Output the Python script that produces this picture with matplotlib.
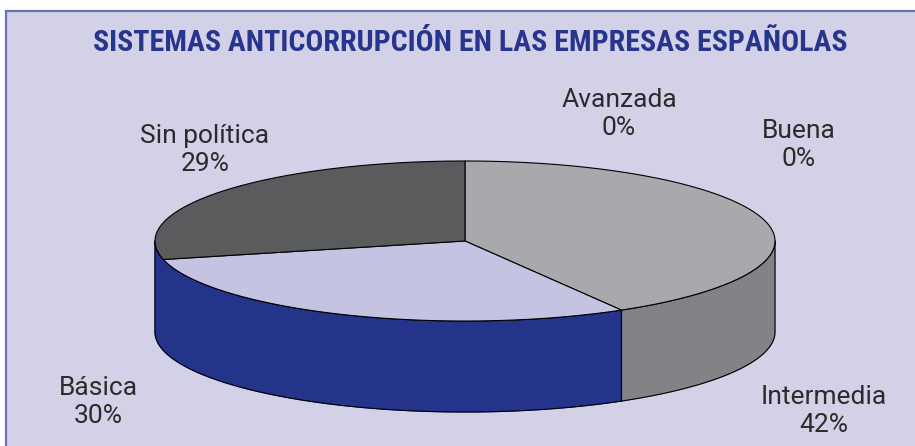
import numpy as np
import matplotlib
matplotlib.use("Agg")
import matplotlib.pyplot as plt
from matplotlib import font_manager
from matplotlib.patches import Rectangle, Polygon

# datos del grafico
titulo = "SISTEMAS ANTICORRUPCIÓN EN LAS EMPRESAS ESPAÑOLAS"
categorias = ["Intermedia", "Básica", "Sin política", "Avanzada", "Buena"]
porcentajes = [42, 30, 29, 0, 0]

# estilos (colores de tapa y de lateral por porcion)
color_tapa = ["#a8a9ac", "#c4c4e2", "#5a5b5d", "#a8a9ac", "#a8a9ac"]
color_lado = ["#828386", "#25348b", "#25348b", "#828386", "#828386"]
pos_etiquetas = [(824, 411), (98, 402), (205, 150), (619, 114), (799, 145)]

FONDO = "#d3d1e8"
BORDE = "#6a70b6"
AZUL_TITULO = "#27358c"
GRIS_TEXTO = "#2b2b2b"

# geometria del pastel 3D (en pixeles)
cx, cy = 465, 241
rx, ry = 310, 80
prof = 91

disponibles = {f.name for f in font_manager.fontManager.ttflist}


def elegir(cands):
    for c in cands:
        if c in disponibles:
            return c
    return "DejaVu Sans"


fuente_titulo = elegir(["Roboto Condensed", "Liberation Sans Narrow", "DejaVu Sans Condensed", "Roboto"])
fuente_texto = elegir(["Roboto", "Lato", "Open Sans", "DejaVu Sans"])


def punto(theta, dy=0.0):
    t = np.radians(theta)
    return cx + rx * np.cos(t), cy - ry * np.sin(t) + dy


def arco(t1, t2, dy=0.0, n=120):
    ts = np.linspace(t1, t2, n)
    return [punto(t, dy) for t in ts]


fig = plt.figure(figsize=(9.15, 4.46), dpi=100, facecolor="white")
ax = fig.add_axes([0, 0, 1, 1])
ax.set_xlim(0, 915)
ax.set_ylim(446, 0)
ax.axis("off")

ax.add_patch(Rectangle((6, 11), 930, 460, facecolor=FONDO, edgecolor=BORDE, lw=1.6, zorder=0))

# angulos de las porciones: empiezan arriba y giran en sentido horario
total = float(sum(porcentajes))
frac = np.array(porcentajes) / total
fin = np.cumsum(frac)
ini = fin - frac
t_alto = 90 - ini * 360
t_bajo = 90 - fin * 360

# laterales visibles (mitad frontal, 180..360 grados)
for i in range(len(categorias)):
    if porcentajes[i] == 0:
        continue
    a, b = t_bajo[i], t_alto[i]
    for k in (-1, 0, 1):
        lo = max(a, 180 + 360 * k)
        hi = min(b, 360 + 360 * k)
        if hi - lo <= 0:
            continue
        pts = arco(lo, hi) + arco(hi, lo, dy=prof)
        ax.add_patch(Polygon(pts, closed=True, facecolor=color_lado[i], edgecolor=color_lado[i],
                             lw=0.8, joinstyle="round", zorder=2))

# contorno del lateral frontal
contorno = arco(180, 360) + arco(360, 180, dy=prof)
ax.add_patch(Polygon(contorno, closed=True, fill=False, edgecolor="black", lw=0.8,
                     joinstyle="round", zorder=2.5))
# division lateral entre porciones que se ven de frente
for i in range(len(categorias)):
    if porcentajes[i] == 0:
        continue
    th = t_bajo[i] % 360
    if 180 < th < 360 and color_lado[i] != color_lado[(i + 1) % len(categorias)]:
        x0, y0 = punto(th)
        ax.plot([x0, x0], [y0, y0 + prof], color="black", lw=0.8, zorder=2.5)

# tapas
for i in range(len(categorias)):
    if porcentajes[i] == 0:
        continue
    pts = [(cx, cy)] + arco(t_bajo[i], t_alto[i])
    ax.add_patch(Polygon(pts, closed=True, facecolor=color_tapa[i], edgecolor="black",
                         lw=0.8, joinstyle="round", zorder=3))

# etiquetas
for nombre, pct, (x, y) in zip(categorias, porcentajes, pos_etiquetas):
    ax.text(x, y, f"{nombre}\n{pct}%", ha="center", va="center", fontsize=19,
            family=fuente_texto, fontweight="normal", color=GRIS_TEXTO, linespacing=1.2, zorder=5)

t = ax.text(470, 43, titulo, ha="center", va="center", fontsize=18, fontweight="bold",
            family=fuente_titulo, color=AZUL_TITULO, zorder=5)
fig.canvas.draw()
ancho = t.get_window_extent().width
t.set_fontsize(18 * 755 / ancho)

fig.savefig("out.png", dpi=100, facecolor="white")
